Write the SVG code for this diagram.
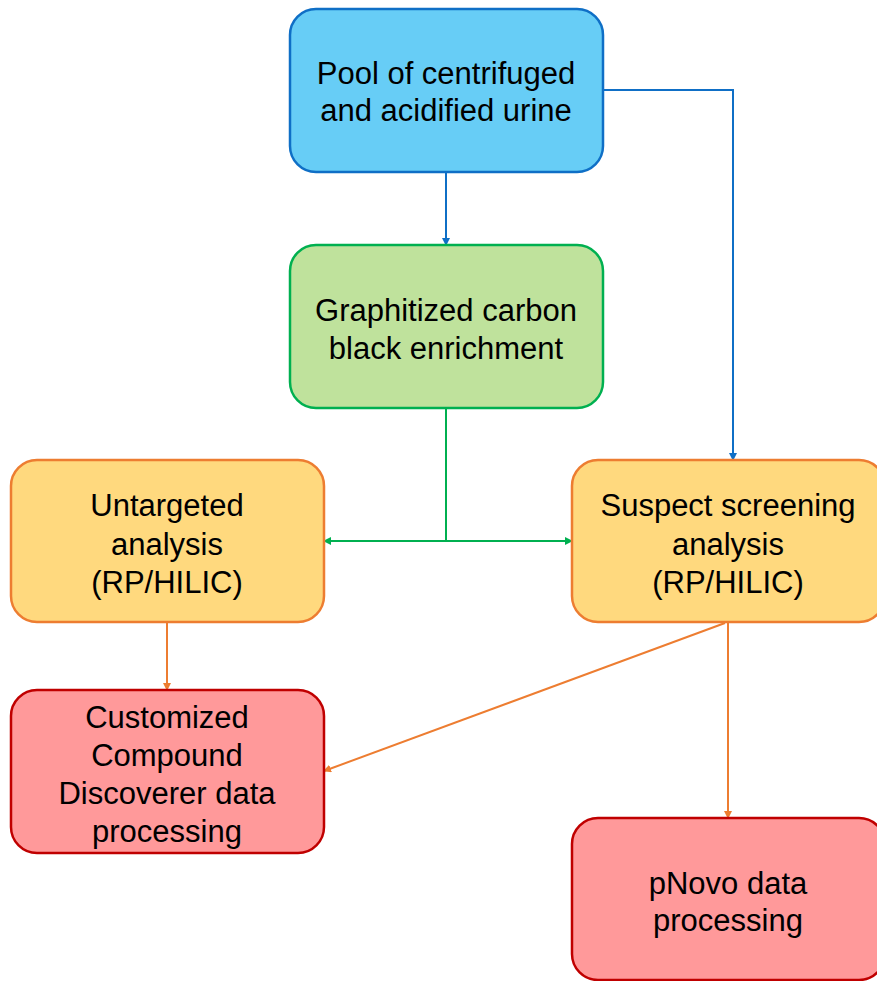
<svg xmlns="http://www.w3.org/2000/svg" width="877" height="981" viewBox="0 0 877 981">
  <style>
    .box { stroke-width: 2.5; }
    .blue { fill: #67CDF6; stroke: #0F6FC6; }
    .green { fill: #BFE29C; stroke: #00B050; }
    .yellow { fill: #FFD97E; stroke: #ED7D31; }
    .red { fill: #FF999A; stroke: #C00000; }
    .lbl { font-family: "Liberation Sans", Arial, sans-serif; font-size: 31px; fill: #000; text-anchor: middle; }
    .c { fill: none; stroke-width: 2; }
  </style>
  <defs>
    <marker id="ab" markerWidth="8" markerHeight="8" refX="7" refY="4" orient="auto" markerUnits="userSpaceOnUse">
      <path d="M0,0 L8,4 L0,8 Z" fill="#0F6FC6"/>
    </marker>
    <marker id="ag" markerWidth="8" markerHeight="8" refX="7" refY="4" orient="auto-start-reverse" markerUnits="userSpaceOnUse">
      <path d="M0,0 L8,4 L0,8 Z" fill="#00B050"/>
    </marker>
    <marker id="ao" markerWidth="8" markerHeight="8" refX="7" refY="4" orient="auto" markerUnits="userSpaceOnUse">
      <path d="M0,0 L8,4 L0,8 Z" fill="#ED7D31"/>
    </marker>
  </defs>

  <rect width="877" height="981" fill="#fff"/>

  <g id="connectors">
    <path class="c" stroke="#0F6FC6" d="M446,172 V245" marker-end="url(#ab)"/>
    <path class="c" stroke="#0F6FC6" d="M603,90 H733 V460" marker-end="url(#ab)"/>
    <path class="c" stroke="#00B050" d="M446,408 V541"/>
    <path class="c" stroke="#00B050" stroke-width="2.5" d="M324,541 H572" marker-start="url(#ag)" marker-end="url(#ag)"/>
    <path class="c" stroke="#ED7D31" d="M167,622 V690" marker-end="url(#ao)"/>
    <path class="c" stroke="#ED7D31" d="M728,622 V818" marker-end="url(#ao)"/>
    <path class="c" stroke="#ED7D31" d="M725,623 L324,771" marker-end="url(#ao)"/>
  </g>

  <g id="pool">
    <rect class="box blue" x="290" y="9" width="313" height="163" rx="26"/>
    <text class="lbl" x="446" y="84">Pool of centrifuged</text>
    <text class="lbl" x="446" y="121">and acidified urine</text>
  </g>

  <g id="gcb">
    <rect class="box green" x="290" y="245" width="313" height="163" rx="26"/>
    <text class="lbl" x="446" y="321">Graphitized carbon</text>
    <text class="lbl" x="446" y="359">black enrichment</text>
  </g>

  <g id="untargeted">
    <rect class="box yellow" x="11" y="460" width="313" height="162" rx="26"/>
    <text class="lbl" x="167" y="516">Untargeted</text>
    <text class="lbl" x="167" y="555">analysis</text>
    <text class="lbl" x="167" y="593">(RP/HILIC)</text>
  </g>

  <g id="suspect">
    <rect class="box yellow" x="572" y="460" width="313" height="162" rx="26"/>
    <text class="lbl" x="728" y="516">Suspect screening</text>
    <text class="lbl" x="728" y="555">analysis</text>
    <text class="lbl" x="728" y="593">(RP/HILIC)</text>
  </g>

  <g id="compound-discoverer">
    <rect class="box red" x="11" y="690" width="313" height="163" rx="26"/>
    <text class="lbl" x="167" y="728">Customized</text>
    <text class="lbl" x="167" y="766">Compound</text>
    <text class="lbl" x="167" y="804">Discoverer data</text>
    <text class="lbl" x="167" y="842">processing</text>
  </g>

  <g id="pnovo">
    <rect class="box red" x="572" y="818" width="313" height="162" rx="26"/>
    <text class="lbl" x="728" y="894">pNovo data</text>
    <text class="lbl" x="728" y="931">processing</text>
  </g>
</svg>
